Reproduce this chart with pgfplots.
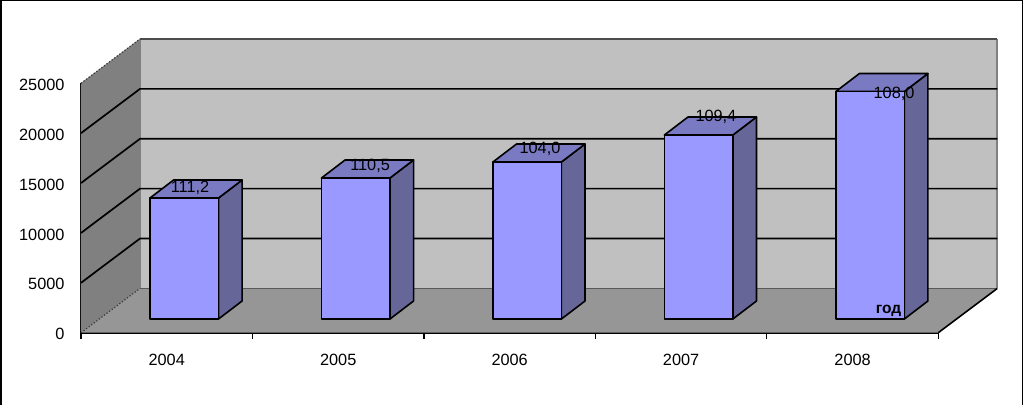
\documentclass[border=0pt]{standalone}
\usepackage{pgfplots}
\pgfplotsset{compat=1.18}
\usepackage{fontspec}
\setmainfont{Liberation Sans}
\definecolor{frontc}{HTML}{9999FF}
\definecolor{sidec}{HTML}{666699}
\definecolor{topc}{HTML}{7A7AC2}
\definecolor{backw}{HTML}{C0C0C0}
\definecolor{leftw}{HTML}{808080}
\definecolor{floorw}{HTML}{969696}
\begin{document}
\begin{tikzpicture}[x=1pt,y=1pt]
\useasboundingbox (0,0) rectangle (1023,-405);
\draw[black,line width=1.6pt] (1,-405) -- (1,-0.6) -- (1022.4,-0.6) -- (1022.4,-405);
\begin{axis}[
  at={(81pt,-332.7pt)}, anchor=south west,
  scale only axis, width=857.3pt, height=249.4pt,
  xmin=0, xmax=5, ymin=0, ymax=25000,
  clip=false,
  axis x line=bottom, axis y line=left,
  axis line style={-,line width=1.8pt,black},
  xtick={0.5,1.5,2.5,3.5,4.5},
  xticklabels={2004,2005,2006,2007,2008},
  minor xtick={0,1,2,3,4,5},
  ytick={0,5000,10000,15000,20000,25000},
  scaled y ticks=false,
  major tick length=0pt,
  minor tick length=6pt,
  minor tick style={black,line width=1.2pt},
  tick align=outside,
  /pgf/number format/set thousands separator={},
  /pgf/number format/assume math mode=true,
  ticklabel style={font=\fontsize{16.3}{18}\selectfont,text=black},
  xticklabel style={yshift=-17.5pt},
  yticklabel style={xshift=-13pt,yshift=-1.5pt},
]
% walls and floor
\addplot[fill=leftw,draw=leftw,forget plot] coordinates {(0,0) (0,25000) (0.344,29441) (0.344,4441)} -- cycle;
\addplot[fill=backw,draw=none,forget plot] coordinates {(0.344,4441) (0.344,29441) (5.344,29441) (5.344,4441)} -- cycle;
\addplot[fill=floorw,draw=none,forget plot] coordinates {(0,0) (5,0) (5.344,4441) (0.344,4441)} -- cycle;
\addplot[draw=leftw,line width=1.6pt,forget plot] coordinates {(0.344,4441) (0.344,29441)};
\addplot[draw=leftw,line width=1.6pt,forget plot] coordinates {(5.344,29441) (5.344,4441)};
\addplot[draw=black!65,line width=1.4pt,forget plot] coordinates {(0.344,4441) (5.344,4441)};
\addplot[draw=black!70,line width=1.4pt,forget plot] coordinates {(0.344,29441) (5.344,29441)};
\addplot[draw=black!80,line width=1.2pt,dotted,forget plot] coordinates {(0,25000) (0.344,29441)};
\addplot[draw=black!80,line width=1.2pt,dotted,forget plot] coordinates {(0,0) (0.344,4441)};
\addplot[draw=black,line width=1.6pt,forget plot] coordinates {(5,0) (5.344,4441)};
% gridlines
\addplot[draw=black,line width=1.7pt,forget plot] coordinates {(0,5000) (0.344,9441) (5.344,9441)};
\addplot[draw=black,line width=1.7pt,forget plot] coordinates {(0,10000) (0.344,14441) (5.344,14441)};
\addplot[draw=black,line width=1.7pt,forget plot] coordinates {(0,15000) (0.344,19441) (5.344,19441)};
\addplot[draw=black,line width=1.7pt,forget plot] coordinates {(0,20000) (0.344,24441) (5.344,24441)};
% bars: side, top, front face
\pgfplotsset{every axis plot/.append style={line join=round}}
% 2004
\addplot[fill=sidec,draw=black,line width=1.6pt,forget plot] coordinates {(0.8019,1373) (0.9395,3177) (0.9395,15306) (0.8019,13502)} -- cycle;
\addplot[fill=topc,draw=black,line width=1.6pt,forget plot] coordinates {(0.4024,13502) (0.54,15306) (0.9395,15306) (0.8019,13502)} -- cycle;
\addplot[fill=frontc,draw=black,line width=1.6pt,forget plot] coordinates {(0.4024,1373) (0.4024,13502) (0.8019,13502) (0.8019,1373)} -- cycle;
% 2005
\addplot[fill=sidec,draw=black,line width=1.6pt,forget plot] coordinates {(1.8019,1373) (1.9395,3177) (1.9395,17311) (1.8019,15507)} -- cycle;
\addplot[fill=topc,draw=black,line width=1.6pt,forget plot] coordinates {(1.4024,15507) (1.54,17311) (1.9395,17311) (1.8019,15507)} -- cycle;
\addplot[fill=frontc,draw=black,line width=1.6pt,forget plot] coordinates {(1.4024,1373) (1.4024,15507) (1.8019,15507) (1.8019,1373)} -- cycle;
% 2006
\addplot[fill=sidec,draw=black,line width=1.6pt,forget plot] coordinates {(2.8019,1373) (2.9395,3177) (2.9395,18915) (2.8019,17111)} -- cycle;
\addplot[fill=topc,draw=black,line width=1.6pt,forget plot] coordinates {(2.4024,17111) (2.54,18915) (2.9395,18915) (2.8019,17111)} -- cycle;
\addplot[fill=frontc,draw=black,line width=1.6pt,forget plot] coordinates {(2.4024,1373) (2.4024,17111) (2.8019,17111) (2.8019,1373)} -- cycle;
% 2007
\addplot[fill=sidec,draw=black,line width=1.6pt,forget plot] coordinates {(3.8019,1373) (3.9395,3177) (3.9395,21622) (3.8019,19818)} -- cycle;
\addplot[fill=topc,draw=black,line width=1.6pt,forget plot] coordinates {(3.4024,19818) (3.54,21622) (3.9395,21622) (3.8019,19818)} -- cycle;
\addplot[fill=frontc,draw=black,line width=1.6pt,forget plot] coordinates {(3.4024,1373) (3.4024,19818) (3.8019,19818) (3.8019,1373)} -- cycle;
% 2008
\addplot[fill=sidec,draw=black,line width=1.6pt,forget plot] coordinates {(4.8019,1373) (4.9395,3177) (4.9395,25982) (4.8019,24178)} -- cycle;
\addplot[fill=topc,draw=black,line width=1.6pt,forget plot] coordinates {(4.4024,24178) (4.54,25982) (4.9395,25982) (4.8019,24178)} -- cycle;
\addplot[fill=frontc,draw=black,line width=1.6pt,forget plot] coordinates {(4.4024,1373) (4.4024,24178) (4.8019,24178) (4.8019,1373)} -- cycle;
% labels
\node[font=\fontsize{16.3}{18}\selectfont,inner sep=0pt] at (axis cs:0.636,14505) {111,2};
\node[font=\fontsize{16.3}{18}\selectfont,inner sep=0pt] at (axis cs:1.686,16740) {110,5};
\node[font=\fontsize{16.3}{18}\selectfont,inner sep=0pt] at (axis cs:2.677,18414) {104,0};
\node[font=\fontsize{16.3}{18}\selectfont,inner sep=0pt] at (axis cs:3.703,21592) {109,4};
\node[font=\fontsize{16.3}{18}\selectfont,inner sep=0pt] at (axis cs:4.742,23897) {108,0};
\node[font=\bfseries\fontsize{15.5}{17}\selectfont,inner sep=0pt] at (axis cs:4.71,2230) {год};
\end{axis}
\end{tikzpicture}
\end{document}
